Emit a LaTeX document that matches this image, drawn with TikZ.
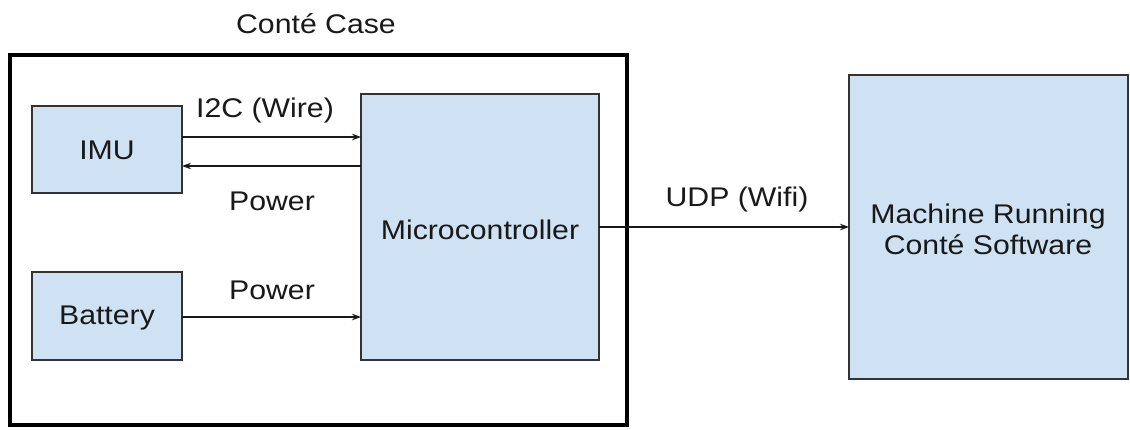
\documentclass[tikz,border=0pt]{standalone}
\usepackage{fontspec}
\setmainfont{Liberation Sans}[FakeStretch=1.12]
\usetikzlibrary{arrows.meta}
\definecolor{boxblue}{HTML}{CFE2F3}
\definecolor{edge}{HTML}{333333}
\begin{document}
\begin{tikzpicture}[x=1pt,y=-1pt,
  blk/.style={draw=edge,line width=1.3pt,fill=boxblue},
  txt/.style={font=\fontsize{27}{31}\selectfont,text=black!90,inner sep=0pt},
  conn/.style={draw=black!90,line width=1.1pt,-{Stealth[length=9pt,width=6.5pt]}}]
\useasboundingbox (0,0) rectangle (1130,429);
\fill[white] (0,0) rectangle (1130,429);
% case
\draw[line width=4.5pt,black] (10,55) rectangle (627,425);
\node[txt] (casel) at (316,24) {Conté Case};
% boxes
\draw[blk] (32,106) rectangle (182,193);
\node[txt] (imu) at (107,150) {IMU};
\draw[blk] (32,272) rectangle (182,360);
\node[txt] (bat) at (107,318) {Battery};
\draw[blk] (361,94) rectangle (599,360);
\node[txt] (mc) at (480,230) {Microcontroller};
\draw[blk] (849,75) rectangle (1128,379);
\node[txt,align=center] (mach) at (988,229) {Machine Running\\[0pt]Conté Software};
% connector end points on box edges
\coordinate (imuR1) at (182,137);
\coordinate (imuR2) at (182,166);
\coordinate (mcL1) at (361,137);
\coordinate (mcL2) at (361,166);
\coordinate (batR) at (182,317);
\coordinate (mcL3) at (361,317);
\coordinate (mcR) at (599,227);
\coordinate (machL) at (849,227);
\draw[conn] (imuR1) -- (mcL1);
\draw[conn] (mcL2) -- (imuR2);
\draw[conn] (batR) -- (mcL3);
\draw[conn] (mcR) -- (machL);
% labels
\node[txt] (l1) at (265,111) {I2C (Wire)};
\node[txt] (l2) at (272,201) {Power};
\node[txt] (l3) at (272,290) {Power};
\node[txt] (l4) at (737,200) {UDP (Wifi)};
\end{tikzpicture}
\end{document}
